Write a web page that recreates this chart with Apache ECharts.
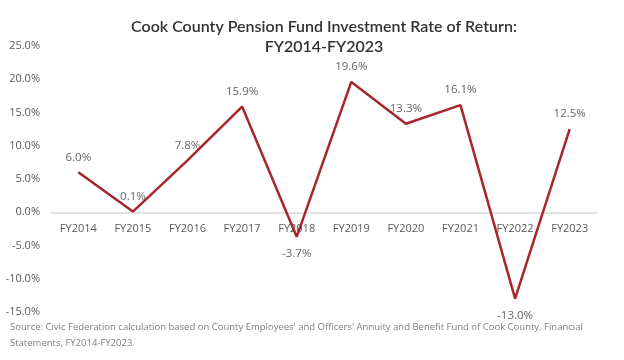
<!DOCTYPE html>
<html><head><meta charset="utf-8">
<script src="https://cdn.jsdelivr.net/npm/echarts@6/dist/echarts.min.js"></script>
<style>html,body{margin:0;padding:0;background:#fff}#c{width:624px;height:360px}</style>
</head><body><div id="c"></div>
<script>
const categories = ['FY2014','FY2015','FY2016','FY2017','FY2018','FY2019','FY2020','FY2021','FY2022','FY2023'];
const returns = [6.0, 0.1, 7.8, 15.9, -3.7, 19.6, 13.3, 16.1, -13.0, 12.5];
const titleLines = ['Cook County Pension Fund Investment Rate of Return:', 'FY2014-FY2023'];
const sourceLines = ["Source: Civic Federation calculation based on County Employees' and Officers' Annuity and Benefit Fund of Cook County, Financial", 'Statements, FY2014-FY2023.'];

const chart = echarts.init(document.getElementById('c'));
chart.setOption({
  animation: false,
  title: {
    text: titleLines.join('\n'), left: 319, textAlign: 'center', top: 12,
    textStyle: { fontFamily: 'Lato', fontSize: 16, fontWeight: 600, color: '#333', lineHeight: 20 }
  },
  graphic: [{
    type: 'text', left: 10, top: 319,
    style: { text: sourceLines.join('\n'), fontFamily: 'Open Sans', fontSize: 9.5, fill: '#7f7f7f', lineHeight: 16 }
  }],
  grid: { left: 51, right: 27, top: 46, bottom: 48, containLabel: false },
  xAxis: {
    type: 'category', data: categories, boundaryGap: true,
    axisLine: { onZero: true, lineStyle: { color: '#d9d9d9', width: 1.5 } },
    axisTick: { show: false },
    axisLabel: { interval: 0, fontFamily: 'Open Sans', fontSize: 11, color: '#595959', margin: -89 }
  },
  yAxis: {
    type: 'value', min: -15, max: 25, interval: 5,
    axisLine: { show: false }, axisTick: { show: false }, splitLine: { show: false },
    axisLabel: { fontFamily: 'Open Sans', fontSize: 11, color: '#595959', margin: 11, formatter: v => v.toFixed(1) + '%' }
  },
  series: [{
    type: 'line', symbol: 'circle', symbolSize: 2, showSymbol: true,
    itemStyle: { color: 'rgba(166,38,46,0)' },
    lineStyle: { color: '#a6262e', width: 2.5 },
    data: returns.map(v => ({ value: v, label: { show: true, position: v < 0 ? 'bottom' : 'top', distance: v < 0 ? 10 : 8 } })),
    label: { show: true, fontFamily: 'Open Sans', fontSize: 11.5, color: '#666', formatter: p => p.value.toFixed(1) + '%' }
  }]
});
</script></body></html>
